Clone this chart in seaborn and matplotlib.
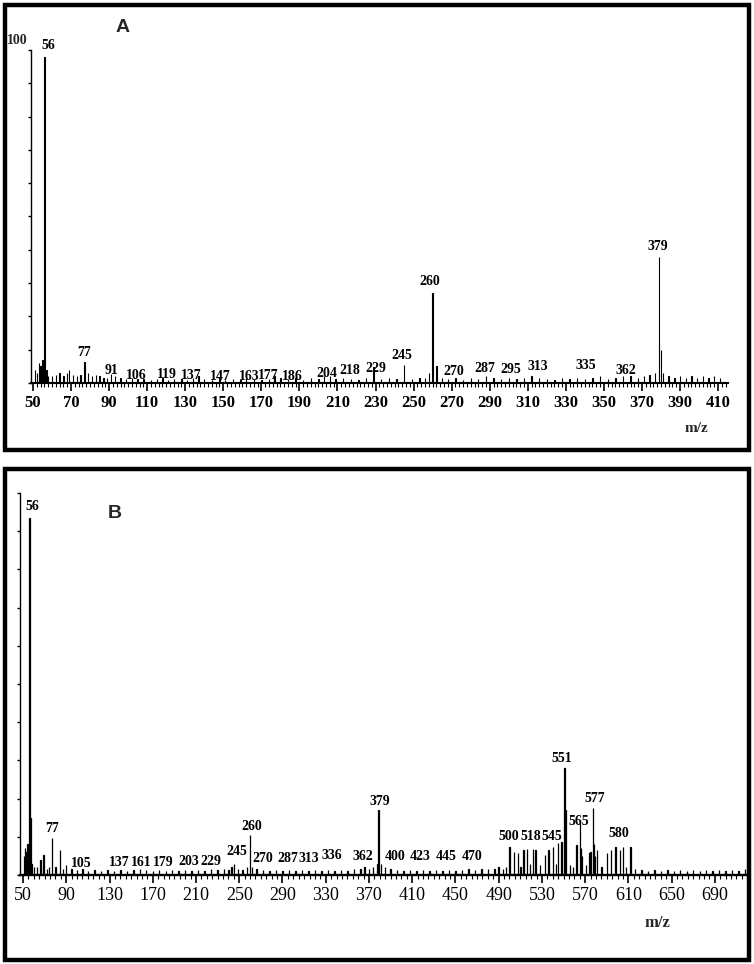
import numpy as np
import pandas as pd
import matplotlib
matplotlib.use("Agg")
import matplotlib.pyplot as plt
from matplotlib.patches import Rectangle
from matplotlib.ticker import MultipleLocator, NullFormatter, FixedLocator
import seaborn as sns

# ---------------- Panel A data ----------------
a_mz = [51, 52, 53, 54, 55, 56, 57, 58, 60, 62, 64, 66, 68, 69, 71, 73, 75, 77, 79, 81,
        83, 85, 87, 89, 91, 93, 96, 99, 102, 105, 108, 112, 115, 118, 121, 124, 128, 131,
        134, 137, 140, 144, 148, 151, 155, 159, 162, 166, 170, 174, 177, 180, 184, 188,
        192, 196, 200, 203, 206, 209, 213, 217, 221, 225, 229, 233, 237, 241, 245, 249,
        253, 256, 258, 260, 262, 265, 268, 272, 276, 280, 284, 288, 292, 296, 300, 304,
        308, 312, 316, 320, 324, 328, 332, 336, 340, 344, 348, 352, 356, 360, 364, 368,
        371, 374, 377, 379, 380, 381, 384, 387, 390, 393, 396, 399, 402, 405, 408, 411]
a_int = [4, 3, 6, 5, 7, 98, 4, 2, 2, 2.5, 3, 2, 3, 4, 2.5, 2, 2.5, 6.3, 3, 2,
         2.5, 2, 1.5, 1.5, 2.8, 2, 1.5, 1.2, 1.5, 1.2, 1.2, 1, 1.2, 1.5, 1, 1.2, 1.2, 1,
         1.5, 2, 1.2, 1, 1.5, 1, 1.2, 1, 1.5, 1.2, 1, 1.2, 2.2, 1.5, 1.2, 1.5,
         1, 1.5, 1.2, 2.2, 2, 1.2, 1.5, 1.2, 1, 1.5, 4.8, 1.2, 1.5, 1.2, 5.4, 1.2,
         1.5, 1.5, 3, 27, 5, 1.5, 1.2, 1.5, 1, 1.5, 1.2, 2, 1.5, 1.2, 1.5, 1.2,
         1.5, 2.2, 1.5, 1.2, 1, 1.5, 1.2, 1.5, 1.2, 1.5, 2, 1.2, 1.5, 2, 2, 1.5,
         2, 2.5, 3, 37.8, 10, 3, 2, 1.5, 2, 1.5, 2, 1.5, 2, 1.5, 2, 1.5]
a_labels = ["56", "77", "91", "106", "119", "137", "147", "163", "177", "186", "204",
            "218", "229", "245", "260", "270", "287", "295", "313", "335", "362", "379"]
a_ticks = [50, 70, 90, 110, 130, 150, 170, 190, 210, 230, 250, 270, 290, 310, 330,
           350, 370, 390, 410]

# ---------------- Panel B data ----------------
b_mz = [51, 52, 53, 54, 55, 56, 57, 58, 60, 63, 66, 69, 72, 74, 77, 80, 84, 87, 90, 95,
        100, 105, 110, 116, 122, 128, 134, 140, 146, 152, 158, 164, 170, 176, 182, 188,
        194, 200, 206, 212, 218, 224, 230, 236, 240, 243, 245, 249, 253, 257, 260, 262,
        266, 272, 278, 284, 290, 296, 302, 308, 314, 320, 326, 332, 338, 344, 350, 356,
        362, 366, 370, 374, 378, 379, 381, 385, 390, 396, 402, 408, 414, 420, 426, 432,
        438, 444, 450, 456, 462, 468, 474, 480, 486, 490, 494, 497, 500, 504, 508, 510,
        513, 516, 519, 522, 524, 528, 533, 536, 540, 543, 545, 548, 551, 552, 556, 559,
        562, 565, 566, 567, 571, 574, 575, 577, 578, 579, 581, 585, 590, 594, 598, 602,
        605, 608, 612, 616, 622, 628, 634, 640, 646, 652, 658, 664, 670, 676, 682, 688,
        694, 700, 706, 712, 718]
b_int = [5, 7, 6, 8, 6, 93.5, 15, 3, 2, 2, 4, 5.2, 1.5, 2, 9.7, 2, 6.5, 1.5, 2.6, 1.5,
         1.2, 1.5, 1, 1.2, 1, 1.2, 1, 1.2, 1, 1.2, 1.5, 1.2, 1, 1.2, 1, 1.2,
         1, 1.2, 1, 1.2, 1, 1.5, 1.2, 1.5, 1.2, 2, 3, 1.5, 1.2, 2, 10.5, 2,
         1.5, 1.2, 1, 1.2, 1, 1.2, 1, 1.2, 1, 1.2, 1, 1.2, 1, 1.2, 1, 1.5,
         1.5, 2, 1.5, 2, 3, 17, 3, 2, 1.5, 1.2, 1, 1.2, 1, 1.2, 1, 1.2,
         1, 1.2, 1, 1.2, 1.5, 1.2, 1.5, 1.5, 1.5, 2, 1.5, 2, 7.4, 6.1, 5.7, 2,
         6.5, 6.9, 3, 6.9, 6.5, 2.5, 5.2, 6.5, 7.4, 3, 8.3, 8.7, 27.9, 17, 2.5, 2,
         7.8, 14, 7, 5, 2.5, 5.7, 6, 17.5, 8, 5, 6.5, 2, 5.7, 6.5, 7.4, 6.5,
         7.4, 2, 7.4, 1.5, 1.2, 1, 1.2, 1, 1.2, 1, 1.2, 1, 1.2, 1, 1.2, 1,
         1.2, 1, 1.2, 1, 1.5]
b_labels = ["56", "77", "105", "137", "161", "179", "203", "229", "245", "260", "270",
            "287", "313", "336", "362", "379", "400", "423", "445", "470", "500", "518",
            "545", "551", "565", "577", "580"]
b_ticks = [50, 90, 130, 170, 210, 250, 290, 330, 370, 410, 450, 490, 530, 570, 610,
           650, 690]

# ---------------- layout (label anchor positions, data coords) ----------------
a_label_pos = [(57.9, 99.4), (76.8, 7.2), (91.0, 1.8), (104.1, 0.2), (120.4, 0.6),
               (133.0, 0.2), (148.3, 0.0), (163.5, 0.0), (173.5, 0.3), (186.1, 0.1),
               (204.5, 0.9), (216.6, 1.8), (230.3, 2.4), (244.0, 6.4), (258.7, 28.5),
               (271.3, 1.5), (287.6, 2.4), (301.3, 2.1), (315.5, 3.0), (340.7, 3.3),
               (361.7, 1.8), (378.4, 39.0)]
b_label_pos = [(58.3, 94.8), (76.8, 10.5), (103.7, 1.3), (138.8, 1.6), (159.2, 1.6),
               (179.5, 1.6), (203.6, 1.8), (223.9, 1.8), (248.0, 4.5), (261.8, 11.0),
               (272.0, 2.6), (295.1, 2.6), (314.6, 2.6), (335.8, 3.4), (364.5, 3.1),
               (380.3, 17.5), (394.1, 3.1), (417.3, 3.1), (441.3, 3.1), (465.4, 3.1),
               (499.6, 8.4), (520.0, 8.4), (539.4, 8.4), (548.6, 28.8), (564.3, 12.3),
               (579.1, 18.3), (601.3, 9.2)]

sns.set_theme(style="ticks")
plt.rcParams["font.family"] = ["Liberation Serif", "DejaVu Serif"]

W, H = 754, 964
fig = plt.figure(figsize=(W / 100, H / 100), dpi=100)
fig.patch.set_facecolor("white")


def fx(x):
    return x / W


def fy(y):
    return 1 - y / H


axA = fig.add_axes([fx(31.1), fy(383), (727.6 - 31.1) / W, 333 / H])
axB = fig.add_axes([fx(19.8), fy(875), (747.3 - 19.8) / W, 382 / H])


def draw(ax, mz, inten, xlim, ticks, minor_step, labels, label_pos, shrink, lw,
         tick_fs, tick_weight, base_lw):
    df = pd.DataFrame({"mz": mz, "intensity": inten})
    sns.histplot(data=df, x="mz", weights="intensity", discrete=True, shrink=shrink,
                 color="black", edgecolor="black", linewidth=lw, alpha=1, ax=ax)
    ax.set_xlim(*xlim)
    ax.set_ylim(0, 100)
    ax.set_xlabel("")
    ax.set_ylabel("")
    ax.set_facecolor("none")
    sns.despine(ax=ax)
    ax.spines["bottom"].set_linewidth(base_lw)
    ax.spines["left"].set_linewidth(1.0)
    ax.spines["bottom"].set_color("black")
    ax.spines["left"].set_color("black")
    ax.xaxis.set_major_locator(FixedLocator(ticks))
    ax.set_xticklabels([str(t) for t in ticks])
    ax.xaxis.set_minor_locator(MultipleLocator(minor_step))
    ax.yaxis.set_major_locator(MultipleLocator(10))
    ax.yaxis.set_major_formatter(NullFormatter())
    ax.tick_params(axis="x", which="major", direction="out", length=6, width=1.2,
                   color="black", pad=3, labelsize=tick_fs)
    ax.tick_params(axis="x", which="minor", direction="out", length=3, width=0.8,
                   color="black")
    ax.tick_params(axis="y", which="major", direction="out", length=2.5, width=1.0,
                   color="black")
    for lab in ax.get_xticklabels():
        lab.set_fontweight(tick_weight)
        lab.set_color("black")
    for txt, (x, y) in zip(labels, label_pos):
        ax.text(x, y, txt, ha="center", va="bottom", fontsize=10, fontweight="bold",
                color="black", family=["Liberation Serif", "DejaVu Serif"])


draw(axA, a_mz, a_int, (49, 415), a_ticks, 2, a_labels, a_label_pos,
     shrink=0.2, lw=0.8, tick_fs=12, tick_weight="bold", base_lw=1.5)
draw(axB, b_mz, b_int, (47, 720), b_ticks, 5, b_labels, b_label_pos,
     shrink=0.4, lw=0.9, tick_fs=13, tick_weight="normal", base_lw=1.7)

# panel letters and axis captions
fig.text(fx(123), fy(27), "A", ha="center", va="center", fontsize=14,
         fontweight="bold", family=["Liberation Sans", "DejaVu Sans"])
fig.text(fx(115), fy(513), "B", ha="center", va="center", fontsize=14,
         fontweight="bold", family=["Liberation Sans", "DejaVu Sans"])
fig.text(fx(17), fy(40), "100", ha="center", va="center", fontsize=10,
         fontweight="bold")
fig.text(fx(696), fy(429), "m/z", ha="center", va="center", fontsize=11,
         fontweight="bold")
fig.text(fx(657), fy(923), "m/z", ha="center", va="center", fontsize=12,
         fontweight="bold")

# panel frames
for (x0, y0, x1, y1) in [(5, 5, 749, 450), (5, 469, 749, 960)]:
    fig.add_artist(Rectangle((fx(x0), fy(y1)), (x1 - x0) / W, (y1 - y0) / H,
                             fill=False, edgecolor="black", linewidth=3.2,
                             transform=fig.transFigure))

fig.savefig("out.png", dpi=100, facecolor="white")
